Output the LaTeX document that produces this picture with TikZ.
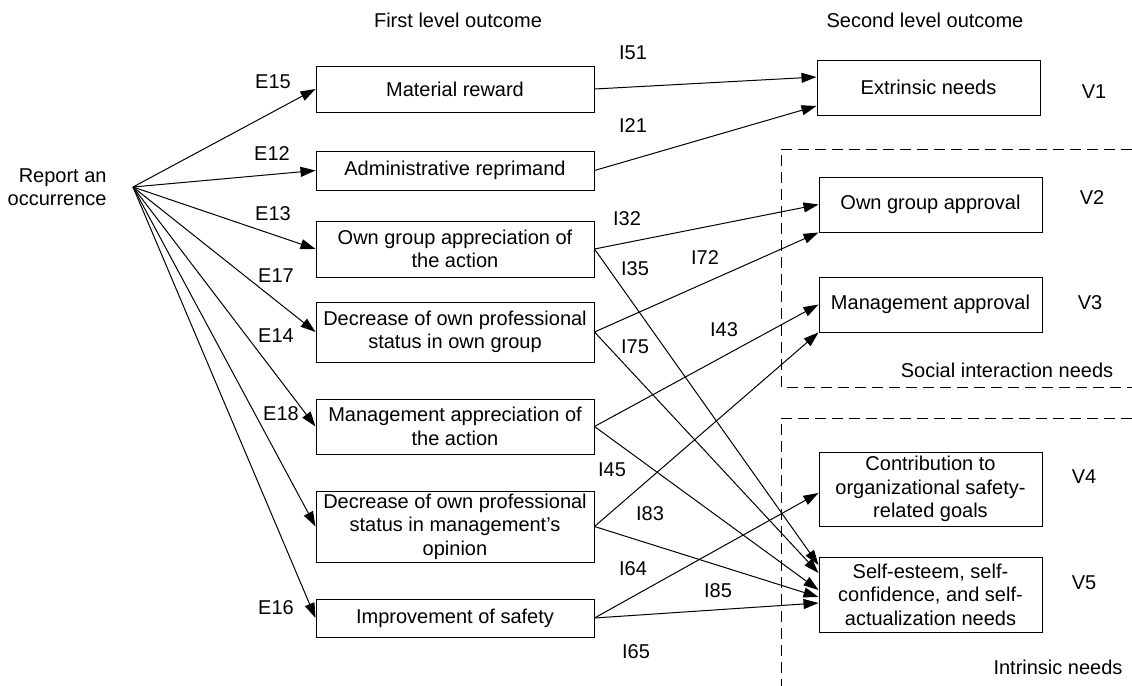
\documentclass[tikz,border=0pt]{standalone}
\usepackage{fontspec}
\setmainfont{Liberation Sans}
\usetikzlibrary{arrows.meta}
\tikzset{
  outcome/.style={draw, line width=0.5pt, align=center, minimum width=139pt, inner sep=0pt,
    font=\fontsize{10}{11.75}\selectfont},
  need/.style={outcome, minimum width=111.5pt},
  lbl/.style={inner sep=0pt, font=\fontsize{10}{11.5}\selectfont},
  link/.style={-{Triangle[length=7.5pt,width=5pt]}, line width=0.5pt},
  group/.style={line width=0.5pt, dash pattern=on 5.5pt off 3pt}
}

\begin{document}
\begin{tikzpicture}[x=0.5pt, y=-0.5pt]
  \useasboundingbox (0,0) rectangle (1132,686);
  % headings
  \node[lbl] (h1) at (458,20) {First level outcome};
  \node[lbl] (h2) at (925,20) {Second level outcome};
  \node[lbl, align=right, anchor=east, inner xsep=13pt] (rep) at (133,187) {Report an\\occurrence};

  % first level outcomes
  \node[outcome, minimum height=23pt]   (f1) at (455,89)    {Material reward};
  \node[outcome, minimum height=19.5pt] (f2) at (455,170.5) {Administrative reprimand};
  \node[outcome, minimum height=28pt]   (f3) at (455,249)   {Own group appreciation of\\the action};
  \node[outcome, minimum height=30pt]   (f4) at (455,332)   {Decrease of own professional\\status in own group};
  \node[outcome, minimum height=27.5pt] (f5) at (455,426.5) {Management appreciation of\\the action};
  \node[outcome, minimum height=35.5pt] (f6) at (455,526.5) {Decrease of own professional\\status in management’s\\opinion};
  \node[outcome, minimum height=19pt]   (f7) at (455,618)   {Improvement of safety};

  % second level outcomes
  \node[need, minimum height=27.5pt] (s1) at (928.5,87.5) {Extrinsic needs};
  \node[need, minimum height=27.5pt] (s2) at (930.5,204.5) {Own group approval};
  \node[need, minimum height=27.5pt] (s3) at (930.5,304.5) {Management approval};
  \node[need, minimum height=37pt]   (s4) at (930.5,489) {Contribution to\\organizational safety-\\related goals};
  \node[need, minimum height=37.5pt] (s5) at (930.5,594.5) {Self-esteem, self-\\confidence, and self-\\actualization needs};

  \node[lbl] (v1) at (1094,92)  {V1};
  \node[lbl] (v2) at (1092,198) {V2};
  \node[lbl] (v3) at (1090,303) {V3};
  \node[lbl] (v4) at (1084,477) {V4};
  \node[lbl] (v5) at (1084,583) {V5};

  % groups of needs
  \draw[group] (1132,149) -- (781,149) -- (781,387) -- (1132,387);
  \draw[group] (1132,418) -- (781,418) -- (781,686);
  \node[lbl] (g1) at (1007,370) {Social interaction needs};
  \node[lbl] (g2) at (1058,667) {Intrinsic needs};

  % expectancies
  \path[link] (rep.east) edge (f1.west)
                         edge (f2.west)
                         edge (f3.west)
                         edge (f4.west)
                         edge (f5.west)
                         edge (f6.west)
                         edge (f7.west)
  ;
  \node[lbl] (e15) at (273,82)  {E15};
  \node[lbl] (e12) at (272,154) {E12};
  \node[lbl] (e13) at (273,214) {E13};
  \node[lbl] (e17) at (276,276) {E17};
  \node[lbl] (e14) at (276,336) {E14};
  \node[lbl] (e18) at (281,414) {E18};
  \node[lbl] (e16) at (276,608) {E16};

  % instrumentalities
  \path[link] (f1.east) edge ([yshift=5.25pt]s1.west)
              (f2.east) edge ([yshift=-9.25pt]s1.west)
              (f3.east) edge (s2.west)
              (f3.east) edge ([yshift=14.75pt]s5.west)
              (f4.east) edge (s2.south west)
              (f4.east) edge ([yshift=10.75pt]s5.west)
              (f5.east) edge (s3.west)
              (f5.east) edge ([yshift=2.25pt]s5.west)
              (f6.east) edge (s3.south west)
              (f6.east) edge ([yshift=-1.25pt]s5.west)
              (f7.east) edge ([yshift=-2pt]s4.west)
              (f7.east) edge ([yshift=-4.25pt]s5.west)
  ;
  \node[lbl] (i51) at (633,53)  {I51};
  \node[lbl] (i21) at (633,126) {I21};
  \node[lbl] (i32) at (627,219) {I32};
  \node[lbl] (i35) at (635,269) {I35};
  \node[lbl] (i72) at (705,258) {I72};
  \node[lbl] (i75) at (635,347) {I75};
  \node[lbl] (i43) at (724,330) {I43};
  \node[lbl] (i45) at (612,470) {I45};
  \node[lbl] (i83) at (650,514) {I83};
  \node[lbl] (i64) at (633,569) {I64};
  \node[lbl] (i85) at (718,591) {I85};
  \node[lbl] (i65) at (636,652) {I65};
\end{tikzpicture}
\end{document}
